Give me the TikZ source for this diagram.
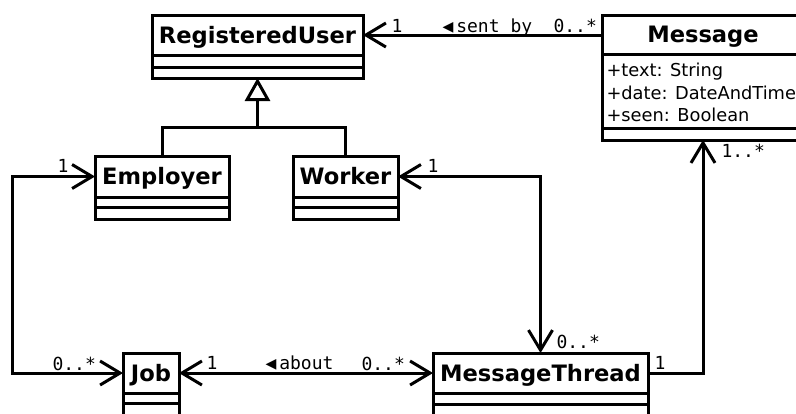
\documentclass[tikz,border=0pt]{standalone}
\usepackage{fontspec}
\setmainfont{DejaVu Sans}
\newfontfamily\monofam{DejaVu Sans Mono}
\usetikzlibrary{arrows.meta}

\begin{document}
\begin{tikzpicture}[x=1pt, y=-1pt, line width=3pt,
  >={Straight Barb[length=20pt,width=24pt]},
  head/.style={draw, inner sep=0pt, outer sep=0pt, anchor=north west,
    font=\fontsize{22.6}{27}\selectfont\bfseries,
    text height=16.5pt, text depth=0pt, minimum height=40pt},
  part/.style={draw, inner sep=0pt, outer sep=0pt, anchor=north},
  attr/.style={inner sep=0pt, anchor=base west, font=\fontsize{17.8}{22}\selectfont},
  mult/.style={inner sep=0pt, anchor=base west, font=\fontsize{18}{22}\monofam},
  gen/.style={-{Triangle[open,length=23pt,width=25pt]}}
]
\clip (0,0) rectangle (796,413);

% classes
\node[head, minimum width=211pt] (ru) at (152,15) {RegisteredUser};
\node[part, minimum width=211pt, minimum height=12pt] (ru1) at (ru.south) {};
\node[part, minimum width=211pt, minimum height=11pt] (ru2) at (ru1.south) {};

\node[head, minimum width=134pt, minimum height=41pt] (emp) at (95,156) {Employer};
\node[part, minimum width=134pt, minimum height=10pt] (emp1) at (emp.south) {};
\node[part, minimum width=134pt, minimum height=12pt] (emp2) at (emp1.south) {};

\node[head, minimum width=105pt, minimum height=41pt] (wrk) at (293,156) {Worker};
\node[part, minimum width=105pt, minimum height=10pt] (wrk1) at (wrk.south) {};
\node[part, minimum width=105pt, minimum height=12pt] (wrk2) at (wrk1.south) {};

\node[head, minimum width=202pt, minimum height=39pt] (msg) at (602,15) {Message};
\node[part, minimum width=202pt, minimum height=74pt] (msg1) at (msg.south) {};
\node[part, minimum width=202pt, minimum height=12pt] (msg2) at (msg1.south) {};
\node[attr] (at1) at (605,76) {+text: String};
\node[attr] (at2) at (605,99) {+date: DateAndTime};
\node[attr] (at3) at (605,121) {+seen: Boolean};

\node[head, minimum width=56pt] (job) at (123,353) {Job};
\node[part, minimum width=56pt, minimum height=10pt] (job1) at (job.south) {};
\node[part, minimum width=56pt, minimum height=20pt] (job2) at (job1.south) {};

\node[head, minimum width=215pt] (mt) at (433,353) {MessageThread};
\node[part, minimum width=215pt, minimum height=11pt] (mt1) at (mt.south) {};
\node[part, minimum width=215pt, minimum height=20pt] (mt2) at (mt1.south) {};

% generalization
\coordinate (genbar) at (257.5,127);
\draw[gen] (genbar) -- (ru2.south);
\draw (emp.north) |- (genbar) -| (wrk.north);

% associations
\draw[<-] (ru.east) -- (ru.east -| msg.west);
\coordinate (leftrail) at (12,0);
\draw[<->] (job.west) -- (job.west -| leftrail) |- (emp.west);
\draw[<->] (job.east) -- (mt.west);
\draw[<->] (wrk.east) -| (mt.north);
\draw[->] (mt.east) -| (msg2.south);

% multiplicities and role names
\node[mult] (m1) at (390,32) {1};
\node[mult] (m2) at (441,32) {◀\kern3pt sent by};
\node[mult] (m3) at (552,32) {0..*};
\node[mult] (m4) at (56,172) {1};
\node[mult] (m5) at (426,172) {1};
\node[mult] (m6) at (51,370) {0..*};
\node[mult] (m7) at (205,369) {1};
\node[mult] (m8) at (264,369) {◀\kern3pt about};
\node[mult] (m9) at (360,370) {0..*};
\node[mult] (m10) at (555,348) {0..*};
\node[mult] (m11) at (653,369) {1};
\node[mult] (m12) at (720,157) {1..*};
\end{tikzpicture}
\end{document}
